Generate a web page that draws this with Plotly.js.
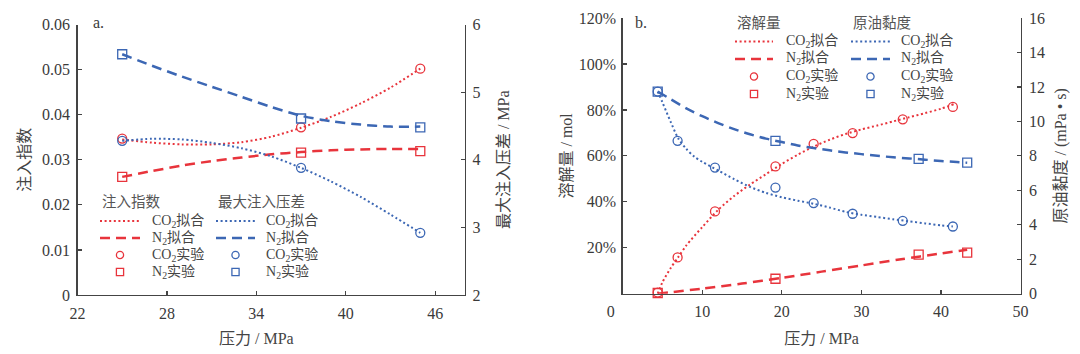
<!DOCTYPE html>
<html>
<head>
<meta charset="utf-8">
<script src="https://cdn.plot.ly/plotly-3.0.1.min.js"></script>
<style>html,body{margin:0;padding:0;background:#fff}#chart{width:1080px;height:354px}</style>
</head>
<body>
<div id="chart"></div>
<script>
// ---------- chart a: injection index / max injection pressure difference ----------
const pA_exp = [25, 37, 45];
const idxCO2_exp = [0.0347, 0.0372, 0.0502];
const idxN2_exp = [0.0262, 0.0316, 0.0319];
const dpCO2_exp = [4.28, 3.88, 2.92];
const dpN2_exp = [5.56, 4.61, 4.48];

const pA_fit = [25, 27, 29, 31, 33, 35, 37, 39, 41, 43, 45];
const idxCO2_fit = [0.0345, 0.0338, 0.0334, 0.0334, 0.0339, 0.0351, 0.0371, 0.0395, 0.0425, 0.0460, 0.0502];
const idxN2_fit = [0.0262, 0.0275, 0.0287, 0.0297, 0.0305, 0.0312, 0.0317, 0.0321, 0.0323, 0.0324, 0.0324];
const dpCO2_fit = [4.28, 4.31, 4.30, 4.25, 4.17, 4.05, 3.88, 3.68, 3.45, 3.19, 2.92];
const dpN2_fit = [5.56, 5.39, 5.23, 5.08, 4.93, 4.78, 4.65, 4.57, 4.52, 4.49, 4.49];

const xTicksA = [22, 28, 34, 40, 46];

// ---------- chart b: solubility / crude oil viscosity ----------
const pB_co2 = [4.4, 6.9, 11.6, 19.2, 24.0, 28.9, 35.2, 41.5];
const solCO2_exp = [0.5, 15.8, 35.8, 55.4, 65.2, 69.9, 75.9, 81.3];
const viscCO2_exp = [11.73, 8.87, 7.32, 6.16, 5.26, 4.64, 4.23, 3.90];
const pB_n2 = [4.4, 19.2, 37.2, 43.3];
const solN2_exp = [0.3, 6.5, 17.0, 17.9];
const viscN2_exp = [11.73, 8.87, 7.83, 7.61];

const pB_solCO2_fit = [4.4, 5, 6, 7, 8, 10, 12, 14, 16, 18, 20, 22, 24, 26, 28, 30, 32, 34, 36, 38, 40, 41.6];
const solCO2_fit = [0, 5, 11, 16, 21, 29, 36.5, 42.5, 47.5, 52, 56.5, 60.5, 64, 67, 69.5, 71.5, 73.2, 75, 76.8, 78.6, 80.5, 82.5];
const pB_solN2_fit = [4.4, 10, 15, 20, 25, 30, 35, 40, 43.3];
const solN2_fit = [0, 2.2, 4.4, 6.9, 9.6, 12.3, 15.0, 17.5, 19.1];
const pB_viscCO2_fit = [4.4, 5, 6, 7, 8, 9, 10, 12, 14, 16, 18, 20, 22, 24, 26, 28, 30, 32, 34, 36, 38, 40, 41.5];
const viscCO2_fit = [11.73, 11.1, 10.0, 9.0, 8.4, 7.95, 7.65, 7.15, 6.65, 6.2, 5.85, 5.6, 5.4, 5.22, 5.0, 4.75, 4.58, 4.45, 4.32, 4.2, 4.08, 3.97, 3.9];
const pB_viscN2_fit = [4.4, 6, 8, 10, 12, 14, 16, 18, 20, 22, 24, 26, 28, 30, 32, 34, 36, 38, 40, 42, 43.3];
const viscN2_fit = [11.73, 11.3, 10.75, 10.3, 9.9, 9.55, 9.25, 9.0, 8.8, 8.6, 8.45, 8.32, 8.2, 8.1, 8.0, 7.92, 7.85, 7.78, 7.7, 7.64, 7.6];

const xTicksB = [0, 10, 20, 30, 40, 50];
const solTicks = [20, 40, 60, 80, 100, 120];
const solTickText = ['20%', '40%', '60%', '80%', '100%', '120%'];

// legend labels
const legendHeadA = ['注入指数', '最大注入压差'];
const legendHeadB = ['溶解量', '原油黏度'];
const legendLabels = ['CO<sub>2</sub>拟合', 'N<sub>2</sub>拟合', 'CO<sub>2</sub>实验', 'N<sub>2</sub>实验'];

// ---------- styles ----------
const RED = '#e8343c', BLUE = '#3c67b4';
const W = 1080, H = 354;
const FONT = 'Liberation Serif, Noto Sans CJK SC, serif';
const TXT = '#3a3a3a';
const DOT = '2px,2.6px', DASH = '10px,6px';

function fitLine(x, y, color, dash, width, xa, ya) {
  return {x: x, y: y, xaxis: xa, yaxis: ya, mode: 'lines', type: 'scatter',
          line: {color: color, dash: dash, width: width, shape: 'spline', smoothing: 0.8},
          showlegend: false, hoverinfo: 'skip'};
}
function expPts(x, y, color, symbol, xa, ya) {
  return {x: x, y: y, xaxis: xa, yaxis: ya, mode: 'markers', type: 'scatter', cliponaxis: false,
          marker: {symbol: symbol, size: 9, color: color, line: {color: color, width: 1.3}},
          showlegend: false};
}

const data = [
  fitLine(pA_fit, idxCO2_fit, RED, DOT, 2, 'x', 'y'),
  fitLine(pA_fit, idxN2_fit, RED, DASH, 2.5, 'x', 'y'),
  fitLine(pA_fit, dpCO2_fit, BLUE, DOT, 2, 'x', 'y2'),
  fitLine(pA_fit, dpN2_fit, BLUE, DASH, 2.5, 'x', 'y2'),
  expPts(pA_exp, idxCO2_exp, RED, 'circle-open', 'x', 'y'),
  expPts(pA_exp, idxN2_exp, RED, 'square-open', 'x', 'y'),
  expPts(pA_exp, dpCO2_exp, BLUE, 'circle-open', 'x', 'y2'),
  expPts(pA_exp, dpN2_exp, BLUE, 'square-open', 'x', 'y2'),

  fitLine(pB_solCO2_fit, solCO2_fit, RED, DOT, 2, 'x2', 'y3'),
  fitLine(pB_solN2_fit, solN2_fit, RED, DASH, 2.5, 'x2', 'y3'),
  fitLine(pB_viscCO2_fit, viscCO2_fit, BLUE, DOT, 2, 'x2', 'y4'),
  fitLine(pB_viscN2_fit, viscN2_fit, BLUE, DASH, 2.5, 'x2', 'y4'),
  expPts(pB_co2, solCO2_exp, RED, 'circle-open', 'x2', 'y3'),
  expPts(pB_n2, solN2_exp, RED, 'square-open', 'x2', 'y3'),
  expPts(pB_co2, viscCO2_exp, BLUE, 'circle-open', 'x2', 'y4'),
  expPts(pB_n2, viscN2_exp, BLUE, 'square-open', 'x2', 'y4')
];

const px = v => v / W;
const py = v => 1 - v / H;

const tickFont = {family: 'Liberation Serif, serif', size: 16, color: TXT};
const baseAxis = {
  showgrid: false, zeroline: false, showline: true, linecolor: '#444', linewidth: 1.3,
  ticks: 'inside', ticklen: 4, tickwidth: 1.2, tickcolor: '#444',
  tickfont: tickFont, automargin: false, fixedrange: true
};
const titleFont = {family: FONT, size: 16, color: '#444'};

const domAx = [px(77.5), px(465)], domAy = [py(295), py(24.5)];
const domBx = [px(622.7), px(1020.5)], domBy = [py(293.7), py(18)];

const NB = '\u00a0';
const xTickTextB = xTicksB.map(v => v === 0 ? '0' + NB.repeat(6) : String(v));

const layout = {
  width: W, height: H, margin: {l: 0, r: 0, t: 0, b: 0},
  paper_bgcolor: '#fff', plot_bgcolor: 'rgba(0,0,0,0)', showlegend: false,
  font: {family: FONT, color: TXT},
  xaxis: Object.assign({}, baseAxis, {domain: domAx, anchor: 'y', range: [22, 48], tickvals: xTicksA, ticklabelstandoff: 3}),
  yaxis: Object.assign({}, baseAxis, {domain: domAy, anchor: 'x', range: [0, 0.06], dtick: 0.01, ticklabelstandoff: 3,
    title: {text: '注入指数', font: titleFont, standoff: 7}}),
  yaxis2: Object.assign({}, baseAxis, {overlaying: 'y', side: 'right', anchor: 'x', range: [2, 6], dtick: 1, ticklabelstandoff: 3,
    title: {text: '最大注入压差 / MPa', font: titleFont, standoff: 18}}),
  xaxis2: Object.assign({}, baseAxis, {domain: domBx, anchor: 'y3', range: [0, 50], tickvals: xTicksB, ticktext: xTickTextB,
    ticklabelstandoff: 3, title: {text: '压力 / MPa', font: titleFont, standoff: 13}}),
  yaxis3: Object.assign({}, baseAxis, {domain: domBy, anchor: 'x2', range: [0, 120], tickvals: solTicks, ticktext: solTickText,
    ticklabelstandoff: 2, title: {text: '溶解量 / mol', font: titleFont, standoff: 2}}),
  yaxis4: Object.assign({}, baseAxis, {overlaying: 'y3', side: 'right', anchor: 'x2', range: [0, 16], dtick: 2,
    ticklabelstandoff: 4, title: {text: '原油黏度 / (mPa • s)', font: titleFont, standoff: 10}}),
  annotations: [],
  shapes: []
};

// x title for chart a (centred over the tick span as in the original)
layout.annotations.push({xref: 'paper', yref: 'paper', x: px(256), y: py(338), xanchor: 'center', yanchor: 'middle',
  text: '压力 / MPa', showarrow: false, font: titleFont});
// panel labels
layout.annotations.push({xref: 'paper', yref: 'paper', x: px(91), y: py(22.5), xanchor: 'left', yanchor: 'middle',
  text: 'a.', showarrow: false, font: {family: 'Liberation Serif, serif', size: 16, color: TXT}});
layout.annotations.push({xref: 'paper', yref: 'paper', x: px(633), y: py(22.5), xanchor: 'left', yanchor: 'middle',
  text: 'b.', showarrow: false, font: {family: 'Liberation Serif, serif', size: 16, color: TXT}});

// ---------- manual two-column legends ----------
function addLegend(cols, headY, rowY, heads) {
  const legFont = {family: FONT, size: 14, color: '#444'};
  cols.forEach((c, i) => {
    layout.annotations.push({xref: 'paper', yref: 'paper', x: px(c.x0), y: py(headY), xanchor: 'left', yanchor: 'middle',
      text: heads[i], showarrow: false, font: {family: FONT, size: 14.5, color: '#555'}});
    const dashes = [DOT, DASH];
    const widths = [2, 2.5];
    for (let r = 0; r < 2; r++) {
      layout.shapes.push({type: 'line', xref: 'paper', yref: 'paper', x0: px(c.x0), x1: px(c.x1), y0: py(rowY[r]), y1: py(rowY[r]),
        line: {color: c.color, dash: dashes[r], width: widths[r]}});
    }
    const cx = (c.x0 + c.x1) / 2, rr = 3.6;
    layout.shapes.push({type: 'circle', xref: 'paper', yref: 'paper', x0: px(cx - rr), x1: px(cx + rr),
      y0: py(rowY[2] - rr), y1: py(rowY[2] + rr), line: {color: c.color, width: 1.3}});
    layout.shapes.push({type: 'rect', xref: 'paper', yref: 'paper', x0: px(cx - rr), x1: px(cx + rr),
      y0: py(rowY[3] - rr), y1: py(rowY[3] + rr), line: {color: c.color, width: 1.3}});
    for (let r = 0; r < 4; r++) {
      layout.annotations.push({xref: 'paper', yref: 'paper', x: px(c.tx), y: py(rowY[r]), xanchor: 'left', yanchor: 'middle',
        text: legendLabels[r], showarrow: false, font: legFont});
    }
  });
}
addLegend([{x0: 100, x1: 140, tx: 150, color: RED}, {x0: 216, x1: 255, tx: 264, color: BLUE}],
          201.5, [221, 238, 255, 272], legendHeadA);
addLegend([{x0: 735, x1: 773, tx: 784, color: RED}, {x0: 851, x1: 890, tx: 899, color: BLUE}],
          23, [41.5, 59, 76.5, 94], legendHeadB);

Plotly.newPlot('chart', data, layout, {staticPlot: true, displayModeBar: false});
</script>
</body>
</html>
